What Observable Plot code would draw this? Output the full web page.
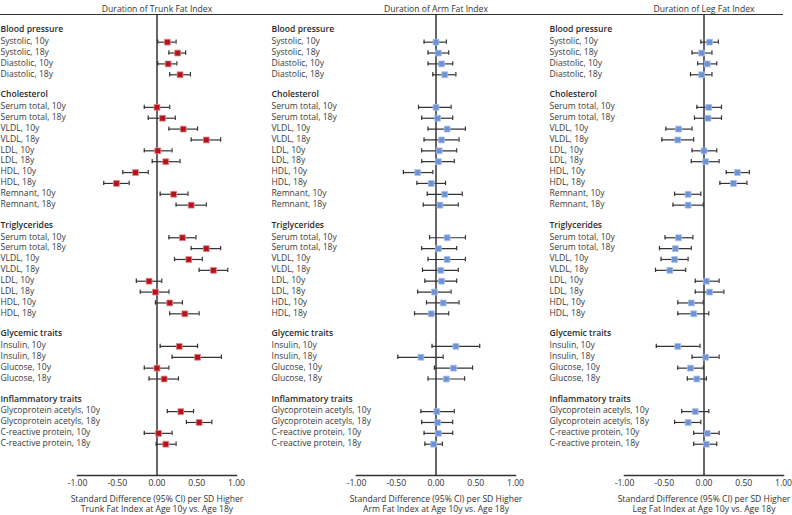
<!DOCTYPE html>
<html><head><meta charset="utf-8">
<script src="https://cdn.jsdelivr.net/npm/d3@7"></script>
<script src="https://cdn.jsdelivr.net/npm/@observablehq/plot@0.6"></script>
<style>
body{margin:0;background:#fff;}
#chart{position:relative;width:792px;height:515px;font-family:"Open Sans",sans-serif;}
.panel{position:absolute;top:0;width:264px;height:515px;}
#rule{position:absolute;left:0;top:14px;width:783px;height:0;border-top:1.5px solid #333;}
</style></head><body><div id="chart"><div id="rule"></div></div>
<script>
const groups = ["Blood pressure", "Cholesterol", "Triglycerides", "Glycemic traits", "Inflammatory traits"];
const groupSizes = [4, 10, 8, 4, 4];
const traits = [
  "Systolic, 10y","Systolic, 18y","Diastolic, 10y","Diastolic, 18y",
  "Serum total, 10y","Serum total, 18y","VLDL, 10y","VLDL, 18y","LDL, 10y","LDL, 18y","HDL, 10y","HDL, 18y","Remnant, 10y","Remnant, 18y",
  "Serum total, 10y","Serum total, 18y","VLDL, 10y","VLDL, 18y","LDL, 10y","LDL, 18y","HDL, 10y","HDL, 18y",
  "Insulin, 10y","Insulin, 18y","Glucose, 10y","Glucose, 18y",
  "Glycoprotein acetyls, 10y","Glycoprotein acetyls, 18y","C-reactive protein, 10y","C-reactive protein, 18y"
];
const trunkEst = [0.13,0.26,0.14,0.29, 0.00,0.07,0.33,0.62,0.01,0.11,-0.27,-0.51,0.21,0.43, 0.32,0.62,0.40,0.71,-0.10,-0.02,0.16,0.35, 0.28,0.51,0.00,0.09, 0.30,0.53,0.02,0.11];
const trunkLo  = [0.01,0.15,0.01,0.16, -0.16,-0.11,0.15,0.43,-0.16,-0.06,-0.43,-0.67,0.04,0.24, 0.15,0.43,0.22,0.53,-0.26,-0.21,-0.02,0.16, 0.04,0.19,-0.16,-0.10, 0.13,0.37,-0.16,-0.01];
const trunkHi  = [0.24,0.36,0.25,0.42, 0.16,0.23,0.51,0.80,0.19,0.29,-0.11,-0.35,0.39,0.62, 0.49,0.80,0.57,0.89,0.06,0.15,0.32,0.53, 0.51,0.81,0.15,0.27, 0.46,0.69,0.19,0.24];
const armEst = [0.00,0.03,0.07,0.11, 0.00,0.02,0.14,0.07,0.04,0.03,-0.23,-0.06,0.11,0.05, 0.14,0.03,0.14,0.06,0.07,-0.02,0.09,-0.06, 0.25,-0.19,0.22,0.13, 0.01,0.02,0.03,-0.03];
const armLo  = [-0.15,-0.10,-0.10,-0.04, -0.22,-0.18,-0.10,-0.15,-0.18,-0.18,-0.41,-0.24,-0.11,-0.16, -0.08,-0.18,-0.10,-0.17,-0.14,-0.23,-0.12,-0.27, -0.05,-0.48,-0.02,-0.10, -0.19,-0.18,-0.15,-0.14];
const armHi  = [0.13,0.16,0.21,0.25, 0.19,0.21,0.37,0.29,0.26,0.23,-0.04,0.12,0.33,0.28, 0.37,0.26,0.37,0.28,0.26,0.19,0.29,0.16, 0.55,0.09,0.46,0.36, 0.23,0.21,0.21,0.08];
const legEst = [0.07,-0.03,0.04,-0.03, 0.06,0.05,-0.32,-0.33,0.00,0.02,0.42,0.37,-0.20,-0.20, -0.32,-0.36,-0.37,-0.43,0.03,0.07,-0.16,-0.13, -0.33,0.02,-0.17,-0.09, -0.11,-0.20,0.04,0.03];
const legLo  = [-0.04,-0.15,-0.08,-0.17, -0.09,-0.12,-0.48,-0.53,-0.15,-0.16,0.28,0.20,-0.37,-0.39, -0.49,-0.56,-0.54,-0.61,-0.11,-0.11,-0.33,-0.33, -0.60,-0.15,-0.33,-0.21, -0.28,-0.37,-0.13,-0.13];
const legHi  = [0.18,0.10,0.16,0.10, 0.22,0.22,-0.15,-0.13,0.16,0.19,0.57,0.54,-0.04,-0.01, -0.14,-0.16,-0.20,-0.23,0.19,0.25,-0.01,0.06, -0.05,0.19,-0.01,0.03, 0.06,-0.04,0.19,0.16];
const xTicks = [-1, -0.5, 0, 0.5, 1];
const panelTitles = ["Duration of Trunk Fat Index", "Duration of Arm Fat Index", "Duration of Leg Fat Index"];
const axisTitles = [
  "Standard Difference (95% CI) per SD Higher\nTrunk Fat Index at Age 10y vs. Age 18y",
  "Standard Difference (95% CI) per SD Higher\nArm Fat Index at Age 10y vs. Age 18y",
  "Standard Difference (95% CI) per SD Higher\nLeg Fat Index at Age 10y vs. Age 18y"
];
const markerColors = ["#b5121b", "#6b93d6", "#6b93d6"];
const markerStrokes = ["#e08a90", "#a9c0ea", "#a9c0ea"];

// row layout: header, items, blank
const headerRows = [];
const itemRows = [];
let idx = 0, t = 0;
groups.forEach((g, gi) => {
  headerRows.push({label: g, i: idx}); idx++;
  for (let k = 0; k < groupSizes[gi]; k++) { itemRows.push({label: traits[t], i: idx, t}); idx++; t++; }
  idx++;
});

const series = [[trunkEst, trunkLo, trunkHi], [armEst, armLo, armHi], [legEst, legLo, legHi]];
const layouts = [
  {left: 0, ml: 77, mr: 28, lx: 0},
  {left: 264, ml: 92, mr: 13, lx: 7},
  {left: 528, ml: 96, mr: 9, lx: 21}
];
const yDomain = [-1.5, 40.88];
const chart = document.getElementById("chart");

series.forEach(([est, lo, hi], p) => {
  const L = layouts[p];
  const items = itemRows.map(r => ({i: r.i, est: est[r.t], lo: lo[r.t], hi: hi[r.t]}));
  const svg = Plot.plot({
    width: 264, height: 515,
    marginLeft: L.ml, marginRight: L.mr, marginTop: 14.5, marginBottom: 40,
    style: {fontFamily: "'Open Sans', sans-serif", fontSize: "8.6px", color: "#333", background: "transparent", overflow: "visible"},
    x: {domain: [-1, 1], ticks: xTicks, tickFormat: d => d.toFixed(2), tickSize: 0, tickPadding: 4, label: null},
    y: {domain: yDomain, reverse: true, axis: null},
    marks: [
      Plot.ruleX([0], {stroke: "#333", strokeWidth: 1.5}),
      Plot.frame({anchor: "bottom", stroke: "#333", strokeWidth: 1.5}),
      Plot.text(headerRows, {y: "i", text: "label", frameAnchor: "left", textAnchor: "start", dx: L.lx - L.ml, dy: -2, fontWeight: "600", fill: "#2a2a2a"}),
      Plot.text(itemRows, {y: "i", text: "label", frameAnchor: "left", textAnchor: "start", dx: L.lx - L.ml, dy: -1, fill: "#3a3a3a"}),
      Plot.ruleY(items, {y: "i", x1: "lo", x2: "hi", stroke: "#333", strokeWidth: 1.2}),
      Plot.ruleX(items, {x: "lo", y1: d => d.i - 0.2, y2: d => d.i + 0.2, stroke: "#333", strokeWidth: 1.2}),
      Plot.ruleX(items, {x: "hi", y1: d => d.i - 0.2, y2: d => d.i + 0.2, stroke: "#333", strokeWidth: 1.2}),
      Plot.dot(items, {x: "est", y: "i", symbol: "square", r: 3.3, fill: markerColors[p], stroke: markerStrokes[p], strokeWidth: 0.8}),
      Plot.text([panelTitles[p]], {x: 0, frameAnchor: "top", dy: -9.5, text: d => d, fill: "#333"}),
      Plot.text([axisTitles[p]], {x: 0, frameAnchor: "bottom", lineAnchor: "top", dy: 19, lineHeight: 1.22, text: d => d, fill: "#333"})
    ]
  });
  const div = document.createElement("div");
  div.className = "panel";
  div.style.left = L.left + "px";
  div.appendChild(svg);
  chart.appendChild(div);
});
</script></body></html>
